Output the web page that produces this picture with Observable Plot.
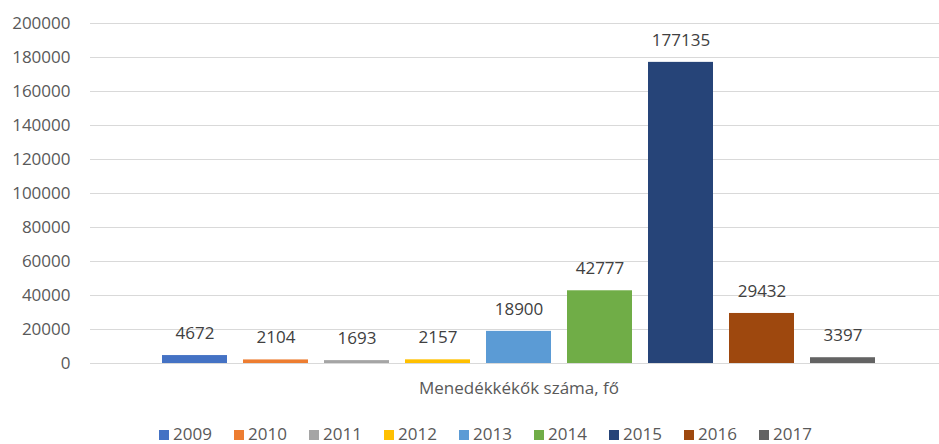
<!DOCTYPE html>
<html>
<head>
<meta charset="utf-8">
<script src="https://cdn.jsdelivr.net/npm/d3@7"></script>
<script src="https://cdn.jsdelivr.net/npm/@observablehq/plot@0.6"></script>
<style>
  body { margin: 0; background: #fff; font-family: "Open Sans", sans-serif; }
  #legend { padding-top: 14px; padding-left: 159px; line-height: 20px; font-size: 17px; color: #595959; white-space: nowrap; }
  .item { display: inline-block; width: 75px; }
  .sw { display: inline-block; width: 10px; height: 10px; margin-right: 4px; vertical-align: 0px; }
</style>
</head>
<body>
<div id="chart"></div>
<div id="legend"></div>
<script>
const years = ["2009", "2010", "2011", "2012", "2013", "2014", "2015", "2016", "2017"];
const values = [4672, 2104, 1693, 2157, 18900, 42777, 177135, 29432, 3397];
const colors = ["#4472C4", "#ED7D31", "#A5A5A5", "#FFC000", "#5B9BD5", "#70AD47", "#264478", "#9E480E", "#636363"];
const yTicks = [0, 20000, 40000, 60000, 80000, 100000, 120000, 140000, 160000, 180000, 200000];
const categoryLabel = "Menedékkékők száma, fő";

const data = years.map((y, i) => ({year: y, value: values[i]}));

const chart = Plot.plot({
  width: 939,
  height: 410,
  marginTop: 23,
  marginBottom: 47,
  marginLeft: 90,
  marginRight: 0,
  style: {fontFamily: "Open Sans", fontSize: "17px", color: "#595959", background: "#fff"},
  x: {type: "band", domain: years, range: [160, 876], paddingInner: 0.2, paddingOuter: 0, axis: null},
  y: {domain: [0, 200000], axis: null},
  color: {domain: years, range: colors},
  marks: [
    Plot.gridY(yTicks, {stroke: "#d9d9d9", strokeOpacity: 1, strokeWidth: 1}),
    Plot.axisY(yTicks, {tickSize: 0, tickPadding: 20, tickFormat: d3.format("d"), fill: "#595959", fontSize: 17, label: null}),
    Plot.barY(data, {x: "year", y: "value", fill: "year"}),
    Plot.text(data, {x: "year", y: "value", text: d => String(d.value), dy: -22, lineAnchor: "middle", fill: "#404040", fontSize: 17}),
    Plot.text([categoryLabel], {text: d => d, frameAnchor: "bottom", dx: 4, dy: 25, lineAnchor: "middle", fill: "#595959", fontSize: 17})
  ]
});
document.getElementById("chart").appendChild(chart);

const legend = document.getElementById("legend");
years.forEach((y, i) => {
  const it = document.createElement("span");
  it.className = "item";
  const sw = document.createElement("span");
  sw.className = "sw";
  sw.style.background = colors[i];
  it.appendChild(sw);
  it.appendChild(document.createTextNode(y));
  legend.appendChild(it);
});
</script>
</body>
</html>
